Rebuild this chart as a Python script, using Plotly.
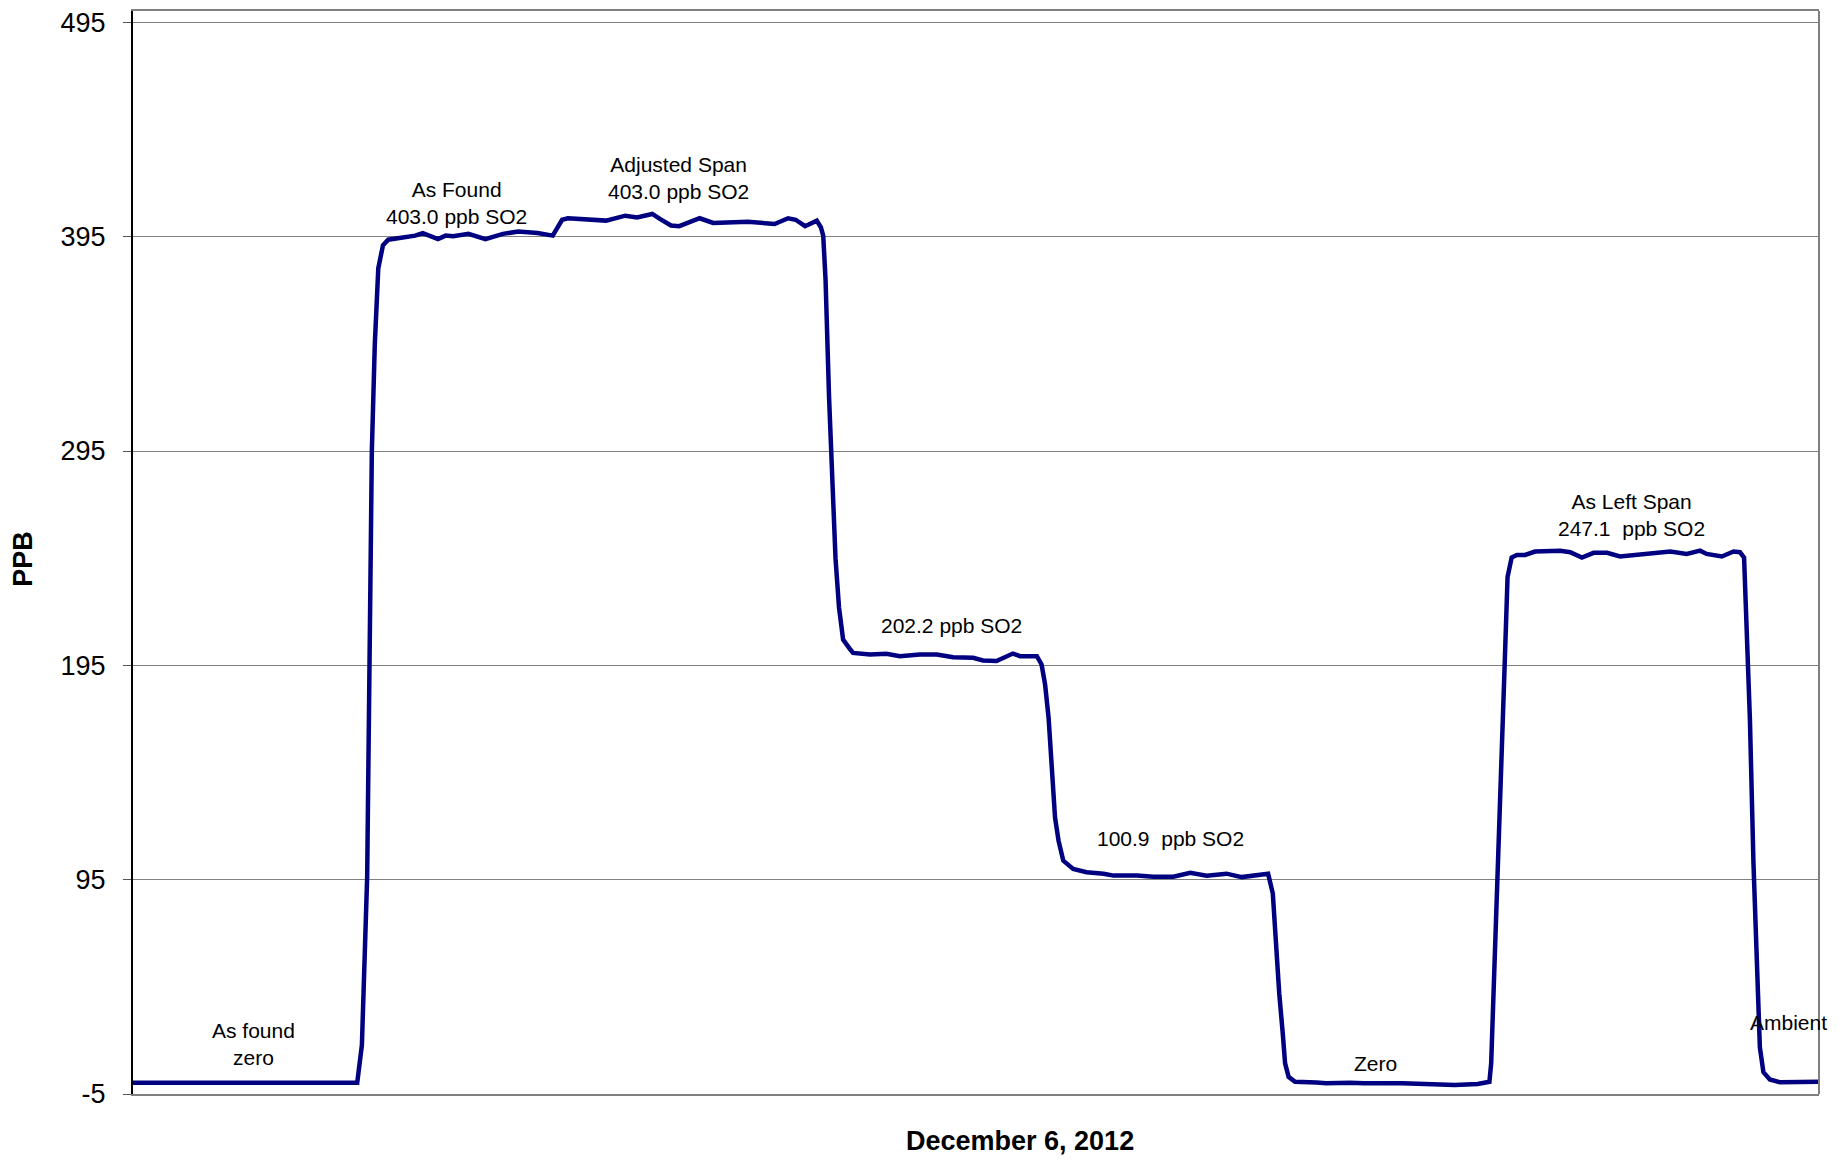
import plotly.graph_objects as go

# SO2 analyzer trace, December 6, 2012 (minutes from start of the run, ppb)
minutes = [0, 10, 20, 30, 38.3, 39.1, 40.0, 40.8, 41.3, 41.9, 42.7, 43.6,
           48.2, 49.5, 52.1, 53.4, 54.7, 57.3, 60.2, 63.2, 65.8, 69.1, 71.7,
           73.3, 74.3, 80.8, 84.1, 86.1, 88.7, 90.0, 91.9, 93.3, 96.8, 99.1,
           105.0, 109.6, 111.9, 113.2, 114.8, 116.8, 117.5,
           117.9, 118.3, 118.9, 119.4, 120.0, 120.6, 121.3, 122.5,
           123.0, 125.9, 128.7, 131.0, 134.4, 137.3, 140.1, 143.5, 145.2,
           147.5, 149.2, 150.3, 151.5, 154.4,
           155.2, 155.8, 156.4, 156.9, 157.5, 158.1, 158.9, 160.6,
           162.9, 165.8, 167.5, 171.5, 174.3, 177.7, 180.6, 183.4, 186.8,
           189.4, 191.4, 193.9,
           194.7, 195.2, 195.8, 196.4, 196.8, 197.4, 198.5,
           202.2, 203.8, 207.9, 210.3, 216.8, 222.0, 225.8, 229.7, 231.7,
           232.0, 232.3, 232.6, 233.2, 233.8, 234.4, 234.8, 235.5,
           236.4, 237.8, 239.5, 241.5, 243.8, 245.5, 247.5, 249.5, 251.8,
           254.0, 257.4, 259.7, 262.6, 265.4, 267.7, 268.8, 271.4, 273.4,
           274.5, 275.2,
           275.6, 276.2, 276.8, 277.4, 277.9, 278.5, 279.6, 281.3, 288.0]

ppb = [0.2, 0.2, 0.2, 0.2, 0.2, 17.8, 96.4, 295.1, 344.5, 380.3, 391.0, 393.6,
       395.5, 396.7, 393.9, 395.5, 395.2, 396.3, 393.9, 396.3, 397.4, 396.7, 395.5,
       402.9, 403.6, 402.5, 404.8, 404.0, 405.6, 403.3, 400.2, 399.9, 403.6, 401.4,
       402.0, 400.9, 403.6, 402.9, 399.9, 402.5, 399.4,
       395.5, 375.0, 320.0, 280.0, 245.0, 222.0, 207.0, 202.5,
       200.8, 200.1, 200.4, 199.3, 200.1, 200.1, 198.8, 198.5, 197.3,
       197.0, 199.3, 200.5, 199.3, 199.3,
       195.4, 186.1, 170.6, 147.3, 124.0, 113.2, 103.9, 100.0,
       98.5, 97.8, 96.9, 96.9, 96.4, 96.4, 98.2, 96.8, 97.8,
       96.2, 96.9, 97.8,
       88.5, 65.1, 41.9, 23.2, 9.3, 3.0, 0.7,
       0.4, 0.0, 0.3, 0.0, 0.0, -0.3, -0.8, -0.3, 0.7,
       9.3, 32.6, 48.0, 94.9, 153.1, 203.0, 236.2, 245.3,
       246.5, 246.5, 248.1, 248.1, 248.5, 247.8, 245.3, 247.5, 247.5,
       245.8, 246.5, 247.5, 248.1, 247.0, 248.5, 247.0, 245.8, 248.1,
       247.8, 245.3,
       212.9, 169.7, 103.2, 53.4, 16.8, 5.2, 1.8, 0.5, 0.7]

# labels written on the chart, with their anchor (minute, ppb)
label_text = ["As found<br>zero", "As Found<br>403.0 ppb SO2",
              "Adjusted Span<br>403.0 ppb SO2", "202.2 ppb SO2",
              "100.9  ppb SO2", "Zero", "As Left Span<br>247.1  ppb SO2",
              "Ambient"]
label_x = [20.5, 55.3, 93.1, 139.8, 177.2, 212.2, 256.0, 282.8]
label_y = [18.5, 410.7, 422.2, 213.7, 114.0, 9.4, 265.2, 28.5]

y_ticks = [-5, 95, 195, 295, 395, 495]
y_tick_text = ["-5", "95", "195", "295", "395", "495"]

FONT = "Liberation Sans, Arial, sans-serif"

fig = go.Figure()
fig.add_trace(go.Scatter(x=minutes, y=ppb, mode="lines",
                         line=dict(color="#000080", width=4.5),
                         showlegend=False))

for t, x, y in zip(label_text, label_x, label_y):
    fig.add_annotation(x=x, y=y, text=t, showarrow=False,
                       font=dict(family=FONT, size=21, color="black"),
                       xanchor="center", yanchor="middle")

# axis titles placed as free text (x title sits right of centre in the original)
fig.add_annotation(x=0.526, y=-0.043, xref="paper", yref="paper",
                   text="<b>December 6, 2012</b>", showarrow=False,
                   font=dict(family=FONT, size=27, color="black"),
                   xanchor="center", yanchor="middle")
fig.add_annotation(x=-0.065, y=0.4945, xref="paper", yref="paper",
                   text="<b>PPB</b>", showarrow=False, textangle=-90,
                   font=dict(family=FONT, size=27, color="black"),
                   xanchor="center", yanchor="middle")

# grey frame on the right side of the plot area
fig.add_shape(type="line", xref="paper", yref="paper", x0=1, x1=1, y0=0, y1=1,
              line=dict(color="#808080", width=2))

# page body has an 8px margin, so the plot box is offset by that
fig.update_layout(
    width=1846, height=1162,
    margin=dict(l=125, r=35, t=0, b=76),
    paper_bgcolor="white", plot_bgcolor="white",
    font=dict(family=FONT, color="black"),
    xaxis=dict(range=[0, 288], showticklabels=False, ticks="",
               showgrid=False, zeroline=False,
               showline=True, mirror=True, linecolor="#808080", linewidth=2),
    yaxis=dict(range=[-5, 500.3], tickvals=y_ticks, ticktext=y_tick_text,
               ticks="outside", ticklen=8, tickcolor="#555555", tickwidth=1,
               ticklabelstandoff=12, ticklabeloverflow="allow",
               tickfont=dict(family=FONT, size=27, color="black"),
               showgrid=True, gridcolor="#808080", gridwidth=1,
               zeroline=False, showline=True, linecolor="black", linewidth=2),
)

fig.write_html("out.html")
